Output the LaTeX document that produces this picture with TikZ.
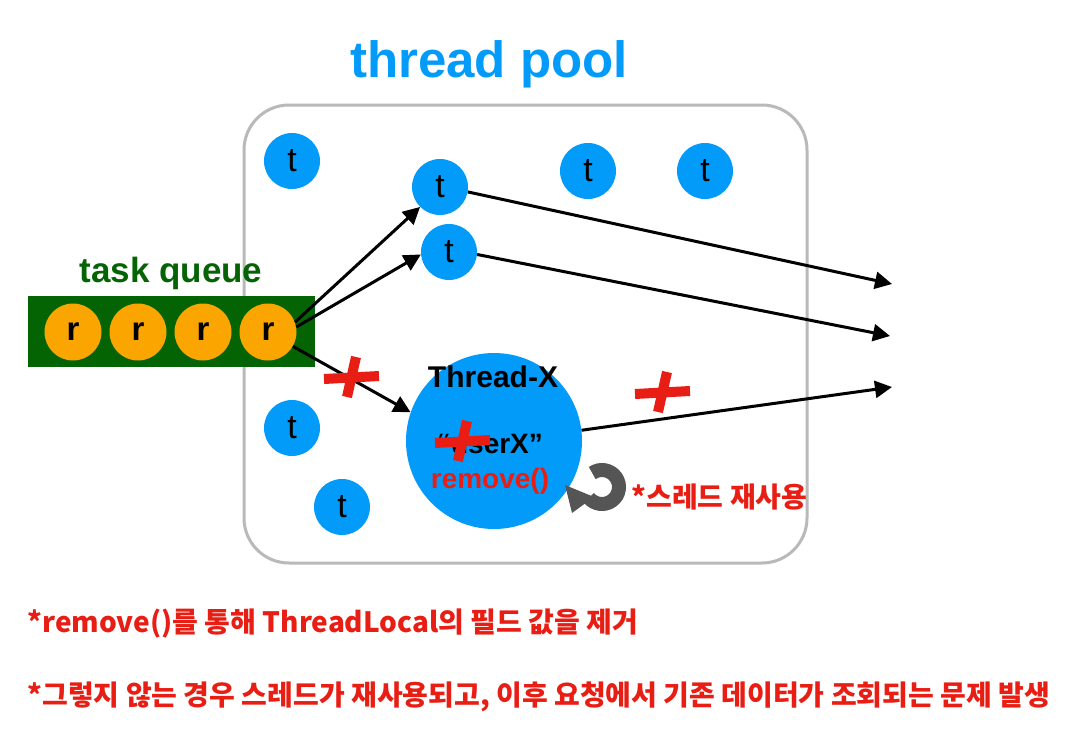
\documentclass[tikz,border=0pt]{standalone}
\usepackage{fontspec}
\setmainfont{Liberation Sans}
\newfontfamily\kr{Noto Sans CJK KR}
\usetikzlibrary{arrows.meta}
\definecolor{poolblue}{RGB}{3,155,250}
\definecolor{queuegreen}{RGB}{4,100,4}
\definecolor{taskorange}{RGB}{250,165,0}
\definecolor{warnred}{RGB}{232,30,20}
\definecolor{loopgray}{RGB}{85,85,85}
\begin{document}
\begin{tikzpicture}[x=1pt,y=-1pt,
    thread/.style={circle,fill=poolblue,minimum size=56pt,inner sep=0pt,font=\fontsize{34}{34}\selectfont},
    task/.style={circle,fill=taskorange,minimum size=57pt,inner sep=0pt,font=\bfseries\fontsize{33}{33}\selectfont},
    flow/.style={line width=3pt,-{Triangle[length=17pt,width=17pt]}},
    note/.style={anchor=base west,text=warnred,font=\kr\bfseries\fontsize{28}{28}\selectfont},
    redx/.pic={\draw[warnred,line width=10pt] (-28,2) -- (27,-1);
               \draw[warnred,line width=10pt] (4,-20) -- (-5,20);}
]
    \useasboundingbox (0,0) rectangle (1072,742);
    % pool
    \draw[gray!55,line width=3pt,rounded corners=45pt] (244,105) rectangle (807,563);
    \node[anchor=base,text=poolblue,font=\bfseries\fontsize{51}{51}\selectfont] (title) at (489,77) {thread pool};
    % queue
    \node[anchor=base,text=queuegreen,font=\bfseries\fontsize{35}{35}\selectfont] (qlabel) at (171,282) {task queue};
    \node[fill=queuegreen,minimum width=287pt,minimum height=71pt,inner sep=0pt] (queue) at (171.5,331.5) {};
    \node[task] (r1) at (73,332) {r};
    \node[task] (r2) at (138,332) {r};
    \node[task] (r3) at (203,332) {r};
    \node[task] (r4) at (268,332) {r};
    % threads
    \node[thread] (t1) at (292,161) {t};
    \node[thread] (t2) at (440,187) {t};
    \node[thread] (t3) at (449,252) {t};
    \node[thread] (t4) at (588,171) {t};
    \node[thread] (t5) at (705,171) {t};
    \node[thread] (t6) at (292,428) {t};
    \node[thread] (t7) at (342,507) {t};
    \node[circle,fill=poolblue,minimum size=176pt] (tx) at (494,441) {};
    \node[anchor=base,font=\bfseries\fontsize{30}{30}\selectfont] (txname) at (493,387) {Thread-X};
    \node[anchor=base,font=\bfseries\fontsize{28}{28}\selectfont] (txuser) at (490,453) {“userX”};
    \node[anchor=base,text=warnred,font=\bfseries\fontsize{28}{28}\selectfont] (txremove) at (490,488) {remove()};
    % results
    \coordinate (o1) at (892,284);
    \coordinate (o2) at (890,336);
    \coordinate (o3) at (892,387);
    \draw[flow] (r4.20) -- (t2.225);
    \draw[flow] (r4.10) -- (t3.185);
    \draw[flow] (r4.-30) -- (tx.161);
    \draw[flow] (t2.-10) -- (o1);
    \draw[flow] (t3.-5) -- (o2);
    \draw[flow] (tx.7) -- (o3);
    \pic at (352,377) {redx};
    \pic at (463,441) {redx};
    \pic at (663,392) {redx};
    % reuse
    \coordinate (reuse) at (602,487);
    \draw[loopgray,line width=14pt] (reuse) ++(235:17) arc[start angle=235,end angle=500,radius=17];
    \fill[loopgray] (565,485) -- (594,497) -- (572,513) -- cycle;
    \node[note] (reusetext) at (628,507) {*스레드 재사용};
    \node[note] (note1) at (24,632) {*remove()를 통해 ThreadLocal의 필드 값을 제거};
    \node[note] (note2) at (24,705) {*그렇지 않는 경우 스레드가 재사용되고, 이후 요청에서 기존 데이터가 조회되는 문제 발생};
\end{tikzpicture}
\end{document}
